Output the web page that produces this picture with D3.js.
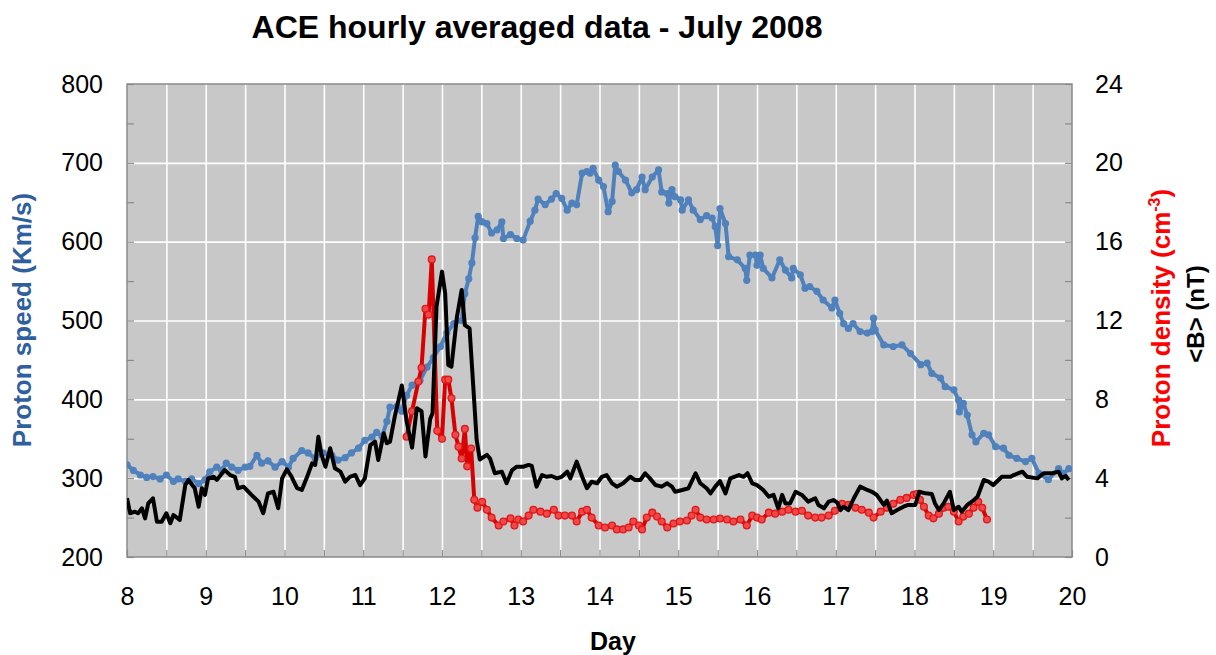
<!DOCTYPE html>
<html><head><meta charset="utf-8">
<script src="https://cdn.jsdelivr.net/npm/d3@7"></script>
<style>
body{margin:0;background:#fff;}
svg{display:block;font-family:"Liberation Sans",Arial,sans-serif;}
</style>
</head><body>
<svg id="chart" width="1216" height="655"></svg>
<script>
// ---- data ----
const titleText = "ACE hourly averaged data - July 2008";
const dayTicks = [8,9,10,11,12,13,14,15,16,17,18,19,20];
const speedTicks = [200,300,400,500,600,700,800];
const rightTicks = [0,4,8,12,16,20,24];

const speedDays = [8.00,8.08,8.17,8.25,8.33,8.42,8.50,8.59,8.65,8.74,8.82,8.91,8.99,9.05,9.14,9.20,9.26,9.33,9.41,9.50,9.56,9.65,9.71,9.79,9.88,9.97,10.05,10.11,10.22,10.30,10.39,10.49,10.60,10.68,10.77,10.85,10.94,11.02,11.11,11.17,11.24,11.30,11.34,11.43,11.49,11.55,11.62,11.72,11.81,11.89,11.98,12.06,12.15,12.25,12.29,12.34,12.38,12.42,12.46,12.51,12.57,12.63,12.70,12.76,12.78,12.87,12.95,13.03,13.12,13.18,13.22,13.31,13.39,13.45,13.52,13.59,13.65,13.71,13.78,13.84,13.88,13.92,13.99,14.05,14.11,14.16,14.20,14.24,14.33,14.41,14.47,14.54,14.58,14.67,14.75,14.79,14.86,14.88,14.92,14.96,15.03,15.05,15.13,15.19,15.28,15.36,15.43,15.47,15.50,15.53,15.60,15.64,15.75,15.85,15.87,15.91,15.98,16.00,16.04,16.08,16.19,16.29,16.36,16.44,16.46,16.55,16.61,16.67,16.76,16.84,16.95,16.99,17.05,17.10,17.16,17.22,17.31,17.40,17.46,17.48,17.50,17.61,17.73,17.84,17.95,18.08,18.16,18.22,18.33,18.39,18.50,18.56,18.57,18.62,18.67,18.73,18.78,18.88,18.94,19.03,19.13,19.20,19.30,19.41,19.49,19.58,19.70,19.83,19.89,19.96];
const speedValues = [317,310,304,301,302,299,304,296,299,296,299,293,298,308,314,310,319,314,310,314,315,329,319,322,314,321,314,325,335,332,325,332,329,323,326,332,338,348,352,358,353,372,390,391,385,405,418,424,441,453,467,484,496,500,534,553,573,605,632,625,623,611,615,625,604,609,604,602,626,640,654,647,654,661,655,640,649,647,687,689,687,693,678,670,638,651,697,689,678,662,666,682,666,682,691,663,661,649,666,657,653,640,653,640,628,633,630,619,595,642,623,581,577,566,551,583,583,570,583,566,554,577,564,554,566,558,541,543,537,526,516,526,509,496,490,496,486,484,486,503,488,469,467,469,458,444,446,433,427,416,412,399,384,395,380,355,346,357,355,340,338,329,325,321,325,306,298,312,306,312];

const densityDays = [11.55,11.62,11.70,11.74,11.79,11.83,11.87,11.94,12.00,12.04,12.08,12.12,12.17,12.21,12.25,12.29,12.32,12.37,12.41,12.45,12.51,12.57,12.63,12.72,12.78,12.87,12.92,12.97,13.03,13.10,13.16,13.25,13.33,13.42,13.48,13.56,13.65,13.71,13.78,13.84,13.90,13.99,14.07,14.16,14.22,14.30,14.37,14.43,14.50,14.54,14.60,14.67,14.73,14.79,14.86,14.94,15.02,15.11,15.17,15.22,15.28,15.36,15.45,15.53,15.62,15.70,15.79,15.87,15.94,16.00,16.06,16.15,16.23,16.32,16.40,16.49,16.57,16.65,16.74,16.82,16.91,16.99,17.08,17.16,17.25,17.33,17.42,17.48,17.57,17.65,17.73,17.82,17.90,17.99,18.03,18.07,18.12,18.18,18.24,18.31,18.37,18.43,18.50,18.56,18.62,18.69,18.75,18.81,18.86,18.92];
const densityValues = [6.1,7.4,8.9,9.6,12.6,12.3,15.1,6.4,6.0,9.0,9.0,8.05,6.2,5.6,5.0,6.5,4.6,5.5,2.9,2.5,2.8,2.4,2.0,1.6,1.8,1.96,1.6,1.9,1.8,2.1,2.4,2.3,2.2,2.4,2.1,2.1,2.1,1.8,2.3,2.4,2.0,1.6,1.5,1.6,1.4,1.4,1.5,1.8,1.6,1.4,2.0,2.25,2.05,1.8,1.5,1.7,1.8,1.85,2.1,2.4,2.0,1.9,1.9,1.95,1.9,1.8,1.9,1.6,2.1,2.0,1.9,2.25,2.2,2.3,2.4,2.3,2.35,2.1,2.0,2.0,2.1,2.35,2.7,2.65,2.5,2.4,2.25,2.0,2.3,2.5,2.7,2.9,3.0,3.15,3.2,2.9,2.55,2.1,1.96,2.2,2.5,2.55,2.3,1.8,2.05,2.2,2.5,2.8,2.5,1.9];

const fieldDays = [8.00,8.04,8.10,8.14,8.19,8.23,8.27,8.33,8.38,8.44,8.50,8.55,8.59,8.67,8.74,8.78,8.86,8.91,8.95,8.99,9.03,9.10,9.14,9.24,9.31,9.37,9.41,9.48,9.58,9.67,9.73,9.79,9.86,9.92,9.97,10.03,10.09,10.16,10.22,10.28,10.35,10.39,10.43,10.47,10.52,10.58,10.64,10.71,10.77,10.83,10.90,10.96,11.02,11.09,11.15,11.19,11.26,11.30,11.34,11.40,11.49,11.55,11.62,11.68,11.74,11.79,11.85,11.88,11.93,12.00,12.04,12.08,12.12,12.19,12.25,12.29,12.35,12.40,12.44,12.48,12.57,12.61,12.67,12.76,12.82,12.89,12.95,13.03,13.10,13.14,13.20,13.27,13.33,13.39,13.46,13.52,13.59,13.63,13.71,13.78,13.84,13.90,13.97,14.03,14.09,14.16,14.22,14.30,14.39,14.45,14.52,14.58,14.64,14.71,14.79,14.86,14.92,14.96,15.05,15.13,15.22,15.28,15.36,15.41,15.47,15.53,15.60,15.66,15.77,15.83,15.88,15.94,16.00,16.08,16.15,16.21,16.27,16.32,16.36,16.42,16.49,16.57,16.65,16.74,16.78,16.85,16.91,16.97,17.02,17.06,17.10,17.16,17.23,17.31,17.40,17.46,17.52,17.61,17.65,17.71,17.78,17.86,17.92,18.01,18.06,18.14,18.22,18.26,18.31,18.37,18.45,18.50,18.56,18.60,18.67,18.73,18.80,18.88,18.94,19.00,19.11,19.22,19.26,19.37,19.43,19.56,19.64,19.75,19.83,19.87,19.92,19.96];
const fieldValues = [2.98,2.22,2.30,2.22,2.47,1.96,2.72,2.98,1.79,1.79,2.22,1.71,2.13,1.88,3.65,3.91,3.49,2.55,3.49,3.15,3.99,4.07,3.91,4.41,4.16,4.07,3.49,3.57,3.15,2.81,2.22,3.23,3.31,2.47,3.99,4.45,4.07,3.49,3.40,3.99,4.75,4.67,6.10,5.18,4.58,5.52,4.50,4.33,3.82,4.07,4.16,3.65,3.99,5.68,5.85,4.92,6.28,5.77,5.85,7.12,8.70,6.90,5.55,7.55,7.40,5.10,7.00,7.30,12.70,14.48,13.38,9.74,9.66,12.19,13.55,11.77,11.60,8.47,5.94,4.95,5.18,5.00,4.25,4.33,3.74,4.41,4.58,4.58,4.67,4.62,3.57,4.16,4.07,4.11,3.99,4.07,4.33,3.99,4.84,4.07,3.49,3.82,3.74,4.07,4.16,3.74,3.57,3.74,4.07,3.91,3.91,4.25,3.99,3.65,3.57,3.74,3.57,3.31,3.40,3.49,4.25,3.74,3.49,3.23,3.57,3.85,3.23,3.99,4.16,4.07,4.25,3.74,3.65,3.40,3.06,3.15,2.47,3.15,2.72,2.72,3.31,3.15,2.81,2.98,2.64,2.47,2.81,2.89,2.76,2.38,2.55,2.38,2.98,3.57,3.40,3.31,3.15,2.64,2.86,2.22,2.38,2.55,2.64,2.64,3.31,3.23,3.20,2.72,2.38,2.72,3.31,2.38,2.55,2.30,2.64,2.81,3.06,3.91,3.82,3.65,4.07,4.07,4.16,4.33,4.07,3.99,4.25,4.25,4.33,3.99,4.11,3.91];

// ---- layout ----
const svg = d3.select("#chart");
const P = {left:127, right:1072, top:84, bottom:557};
const x = d3.scaleLinear().domain([8,20]).range([P.left,P.right]);
const yL = d3.scaleLinear().domain([200,800]).range([P.bottom,P.top]);
const yR = d3.scaleLinear().domain([0,24]).range([P.bottom,P.top]);
const pw = P.right-P.left, ph = P.bottom-P.top;

const zip = (a,b) => a.slice(0, Math.min(a.length,b.length)).map((d,i)=>[d,b[i]]);
const speed = zip(speedDays, speedValues);
const density = zip(densityDays, densityValues);
const field = zip(fieldDays, fieldValues);

svg.append("rect").attr("x",P.left).attr("y",P.top).attr("width",pw).attr("height",ph)
  .attr("fill","#c8c8c8");

// vertical grid every half day
const halfDays = d3.range(8.5, 20, 0.5);
svg.append("g").attr("transform",`translate(0,${P.bottom})`)
  .call(d3.axisBottom(x).tickValues(halfDays).tickSize(-ph).tickFormat(""))
  .call(g=>{g.select(".domain").remove(); g.selectAll("line").attr("stroke","#ffffff").attr("stroke-width",1.6);});
// horizontal grid every 100
svg.append("g").attr("transform",`translate(${P.left},0)`)
  .call(d3.axisLeft(yL).tickValues(speedTicks.slice(1,-1)).tickSize(-pw).tickFormat(""))
  .call(g=>{g.select(".domain").remove(); g.selectAll("line").attr("stroke","#ffffff").attr("stroke-width",1.6);});

// inward tick marks
const tickCol = "#8a8a8a";
svg.append("g").attr("transform",`translate(0,${P.bottom})`)
  .call(d3.axisTop(x).tickValues(d3.range(8,20.01,0.5)).tickSize(7).tickFormat(""))
  .call(g=>{g.select(".domain").remove(); g.selectAll("line").attr("stroke",tickCol).attr("stroke-width",1.2);});
svg.append("g").attr("transform",`translate(${P.left},0)`)
  .call(d3.axisRight(yL).tickValues(d3.range(200,801,50)).tickSize(7).tickFormat(""))
  .call(g=>{g.select(".domain").remove(); g.selectAll("line").attr("stroke",tickCol).attr("stroke-width",1.2);});
svg.append("g").attr("transform",`translate(${P.right},0)`)
  .call(d3.axisLeft(yR).tickValues(d3.range(0,24.01,2)).tickSize(7).tickFormat(""))
  .call(g=>{g.select(".domain").remove(); g.selectAll("line").attr("stroke",tickCol).attr("stroke-width",1.2);});

svg.append("rect").attr("x",P.left).attr("y",P.top).attr("width",pw).attr("height",ph)
  .attr("fill","none").attr("stroke","#8a8a8a").attr("stroke-width",1.5);

// tick labels via axes
const lblSize = 25;
const fam = "Liberation Sans, Arial, sans-serif";
svg.append("g").attr("transform",`translate(0,${P.bottom})`)
  .call(d3.axisBottom(x).tickValues(dayTicks).tickSize(0).tickPadding(30).tickFormat(d3.format("d")))
  .call(g=>{g.select(".domain").remove(); g.selectAll("text").attr("font-size",lblSize).attr("fill","#000").attr("font-family",fam);});
svg.append("g").attr("transform",`translate(${P.left},0)`)
  .call(d3.axisLeft(yL).tickValues(speedTicks).tickSize(0).tickPadding(24).tickFormat(d3.format("d")))
  .call(g=>{g.select(".domain").remove(); g.selectAll("text").attr("font-size",lblSize).attr("fill","#000").attr("font-family",fam);});
svg.append("g").attr("transform",`translate(${P.right},0)`)
  .call(d3.axisRight(yR).tickValues(rightTicks).tickSize(0).tickPadding(23).tickFormat(d3.format("d")))
  .call(g=>{g.select(".domain").remove(); g.selectAll("text").attr("font-size",lblSize).attr("fill","#000").attr("font-family",fam);});

// ---- series ----
svg.append("clipPath").attr("id","pc").append("rect")
  .attr("x",P.left).attr("y",P.top).attr("width",pw).attr("height",ph);
const plot = svg.append("g").attr("clip-path","url(#pc)");

const blue = "#4f81bd";
const lineS = d3.line().x(d=>x(d[0])).y(d=>yL(d[1]));
plot.append("path").datum(speed).attr("d",lineS).attr("fill","none")
  .attr("stroke",blue).attr("stroke-width",4).attr("stroke-linejoin","round");
plot.append("g").selectAll("circle").data(speed).join("circle")
  .attr("cx",d=>x(d[0])).attr("cy",d=>yL(d[1])).attr("r",3.6).attr("fill",blue);

const red = "#d80000";
const lineR = d3.line().x(d=>x(d[0])).y(d=>yR(d[1]));
plot.append("path").datum(density).attr("d",lineR).attr("fill","none")
  .attr("stroke",red).attr("stroke-width",4).attr("stroke-linejoin","round");
plot.append("g").selectAll("circle").data(density).join("circle")
  .attr("cx",d=>x(d[0])).attr("cy",d=>yR(d[1])).attr("r",3.4)
  .attr("fill","#f04848").attr("stroke","#e01818").attr("stroke-width",1.3);

plot.append("path").datum(field).attr("d",lineR).attr("fill","none")
  .attr("stroke","#000").attr("stroke-width",4).attr("stroke-linejoin","round");

// ---- titles ----
svg.append("text").attr("x",537).attr("y",38).attr("text-anchor","middle")
  .attr("font-size",32).attr("font-weight","bold").text(titleText);

svg.append("text").attr("x",613).attr("y",650).attr("text-anchor","middle")
  .attr("font-size",25).attr("font-weight","bold").text("Day");

svg.append("text").attr("transform","translate(31,320) rotate(-90)").attr("text-anchor","middle")
  .attr("font-size",26).attr("font-weight","bold").attr("fill","#2f5f9e").text("Proton speed (Km/s)");

const rt = svg.append("text").attr("transform","translate(1170,318) rotate(-90)").attr("text-anchor","middle")
  .attr("font-size",26).attr("font-weight","bold").attr("fill","#ff0000");
rt.append("tspan").text("Proton density (cm");
rt.append("tspan").attr("font-size",16).attr("dy",-10).text("-3");
rt.append("tspan").attr("dy",10).text(")");

svg.append("text").attr("transform","translate(1204,314) rotate(-90)").attr("text-anchor","middle")
  .attr("font-size",24).attr("font-weight","bold").attr("fill","#000").text("<B> (nT)");
</script>
</body></html>
